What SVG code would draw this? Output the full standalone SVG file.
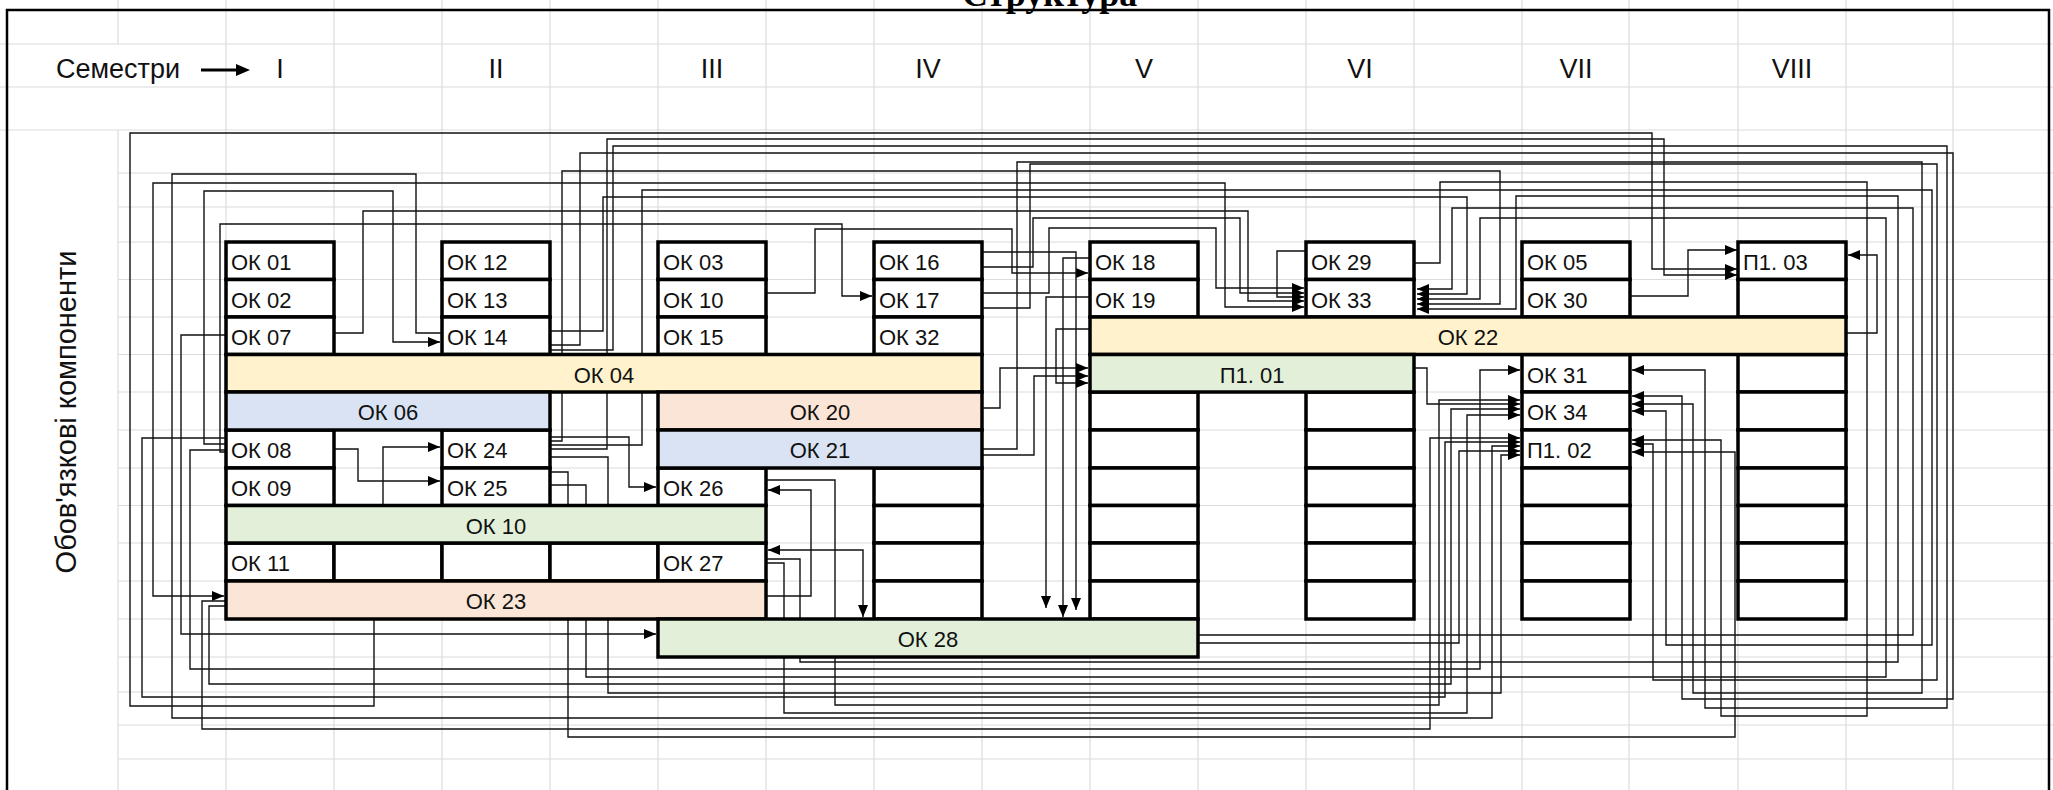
<svg xmlns="http://www.w3.org/2000/svg" width="2053" height="790" viewBox="0 0 2053 790">
<defs>
<marker id="ah" markerWidth="12" markerHeight="10" refX="12" refY="5" orient="auto-start-reverse" markerUnits="userSpaceOnUse"><path d="M0,0 L12,5 L0,10 z" fill="#000"/></marker>
</defs>
<style>
.g{stroke:#dcdcdc;stroke-width:1.2;fill:none}
.c{fill:#fff;stroke:#000;stroke-width:3.5}
.y{fill:#FFF2CC}.b{fill:#DAE3F3}.p{fill:#FBE5D6}.gr{fill:#E2F0D9}
.t{font-family:"Liberation Sans",Arial,sans-serif;font-size:22px;fill:#111}
.tm{text-anchor:middle}
.h{font-family:"Liberation Sans",Arial,sans-serif;font-size:27px;fill:#111}
#connectors path{fill:none;stroke:#111;stroke-width:1.4}
#connectors .a{marker-end:url(#ah)}
#connectors .aa{marker-end:url(#ah);marker-start:url(#ah)}
</style>
<rect width="2053" height="790" fill="#fff"/>
<g id="grid">
<path class="g" d="M226,0V790M334,0V790M442,0V790M550,0V790M658,0V790M766,0V790M874,0V790M982,0V790M1090,0V790M1198,0V790M1306,0V790M1414,0V790M1522,0V790M1629,0V790M1738,0V790M1846,0V790M1953,0V790M118,0V44M118,130V790"/>
<path class="g" d="M0,44H2053M0,87H2053M0,130H2053M118,173H2053M118,207H2053M118,242H2053M118,279.5H2053M118,317H2053M118,354.5H2053M118,392H2053M118,430H2053M118,468H2053M118,505.5H2053M118,543H2053M118,581H2053M118,619H2053M118,657H2053M118,692H2053M118,725H2053M118,759H2053"/>
</g>
<g id="frame">
<path d="M7,790V10H2049V790" fill="none" stroke="#000" stroke-width="2.5"/>
<text x="962" y="6" style="font-family:'Liberation Serif','Times New Roman',serif;font-size:36px;font-weight:bold;fill:#000">Структура</text>
</g>
<g id="header">
<text class="h" x="56" y="78">Семестри</text>
<path d="M201,70H238" stroke="#000" stroke-width="3"/>
<path d="M236,64L250,70L236,76z" fill="#000"/>
<text class="h tm" x="280" y="78">I</text>
<text class="h tm" x="496" y="78">II</text>
<text class="h tm" x="712" y="78">III</text>
<text class="h tm" x="928" y="78">IV</text>
<text class="h tm" x="1144" y="78">V</text>
<text class="h tm" x="1360" y="78">VI</text>
<text class="h tm" x="1576" y="78">VII</text>
<text class="h tm" x="1792" y="78">VIII</text>
<text class="h tm" style="font-size:29px" transform="translate(76,412) rotate(-90)">Обов'язкові компоненти</text>
</g>
<g id="connectors">
<path class="a" d="M374,619V706H130V133H1652V269H1737"/>
<path class="a" d="M550,449H607V139H1664V275H1737"/>
<path class="a" d="M1630,296H1688V250H1737"/>
<path class="a" d="M1846,333H1877V255H1848"/>
<path class="a" d="M1414,263H1440V182H1867V716H1721V440H1632"/>
<path class="a" d="M1306,251H1277V297H1304"/>
<path class="a" d="M226,444H204V191H393V342H440"/>
<path class="a" d="M442,333H416V174H172V718H1492V446H1520"/>
<path class="aa" d="M224,596H153V183H1225V307H1304"/>
<path class="a" d="M334,333H363V211H1248V301H1304"/>
<path class="a" d="M226,452H220V224H842V296H872"/>
<path class="a" d="M766,293H815V229H1012V273H1088"/>
<path class="a" d="M550,331H603V197H1467V294H1417"/>
<path class="a" d="M550,345H580V153H1953V699H1682V396H1632"/>
<path class="a" d="M550,350H613V146H1947V708H1705V370H1632"/>
<path class="a" d="M550,441H562V171H1500V304H1417"/>
<path class="a" d="M550,445H642V190H1932V645H1666V411H1632"/>
<path class="a" d="M550,437H629V487H656"/>
<path class="a" d="M550,457H608V693H1501V455H1520"/>
<path class="a" d="M550,472H568V737H1735V452H1632"/>
<path class="a" d="M550,485H586V677H1886V218H1480V299H1417"/>
<path class="a" d="M982,252H1076V610"/>
<path class="a" d="M1090,258H1063V617"/>
<path class="a" d="M1090,297H1046V608"/>
<path class="a" d="M1090,329H1056V383H1088"/>
<path class="a" d="M982,408H1000V368H1088"/>
<path class="a" d="M982,455H1034V376H1088"/>
<path class="a" d="M982,267H1033V218H1240V293H1304"/>
<path class="a" d="M982,293H1049V228H1216V288H1304"/>
<path class="a" d="M982,308H1030V164H1937V680H1653V444H1632"/>
<path class="a" d="M982,449H1017V162H1922V693H1693V404H1632"/>
<path class="a" d="M1414,368H1427V404H1520"/>
<path class="a" d="M226,601H202V729H1430V438H1520"/>
<path class="a" d="M766,480H835V705H1439V400H1520"/>
<path class="a" d="M226,606H209V684H1451V409H1520"/>
<path class="a" d="M1198,643H1459V451H1520"/>
<path class="a" d="M766,563H784V713H1467V415H1520"/>
<path class="a" d="M226,450H190V669H1480V370H1520"/>
<path class="a" d="M226,438H142V697H1445V442H1520"/>
<path class="a" d="M766,559H800V662H1898V196H1516V309H1417"/>
<path class="a" d="M1198,635H1913V208H1452V289H1417"/>
<path class="a" d="M226,335H181V634H656"/>
<path class="a" d="M383,581V447H440"/>
<path class="a" d="M334,449H358V481H440"/>
<path class="a" d="M766,596H811V490H768"/>
<path class="aa" d="M768,550H863V617"/>
</g>
<g id="nodes">
<g id="ok01"><rect class="c" x="226" y="242" width="108" height="37.5"/><text class="t" x="231" y="270">ОК 01</text></g>
<g id="ok02"><rect class="c" x="226" y="279.5" width="108" height="37.5"/><text class="t" x="231" y="307.5">ОК 02</text></g>
<g id="ok07"><rect class="c" x="226" y="317" width="108" height="37.5"/><text class="t" x="231" y="345">ОК 07</text></g>
<g id="ok08"><rect class="c" x="226" y="430" width="108" height="38"/><text class="t" x="231" y="458">ОК 08</text></g>
<g id="ok09"><rect class="c" x="226" y="468" width="108" height="37.5"/><text class="t" x="231" y="496">ОК 09</text></g>
<g id="ok11"><rect class="c" x="226" y="543" width="108" height="38"/><text class="t" x="231" y="571">ОК 11</text></g>
<g id="e1"><rect class="c" x="334" y="543" width="108" height="38"/></g>
<g id="ok12"><rect class="c" x="442" y="242" width="108" height="37.5"/><text class="t" x="447" y="270">ОК 12</text></g>
<g id="ok13"><rect class="c" x="442" y="279.5" width="108" height="37.5"/><text class="t" x="447" y="307.5">ОК 13</text></g>
<g id="ok14"><rect class="c" x="442" y="317" width="108" height="37.5"/><text class="t" x="447" y="345">ОК 14</text></g>
<g id="ok24"><rect class="c" x="442" y="430" width="108" height="38"/><text class="t" x="447" y="458">ОК 24</text></g>
<g id="ok25"><rect class="c" x="442" y="468" width="108" height="37.5"/><text class="t" x="447" y="496">ОК 25</text></g>
<g id="e2"><rect class="c" x="442" y="543" width="108" height="38"/></g>
<g id="e3"><rect class="c" x="550" y="543" width="108" height="38"/></g>
<g id="ok03"><rect class="c" x="658" y="242" width="108" height="37.5"/><text class="t" x="663" y="270">ОК 03</text></g>
<g id="ok10a"><rect class="c" x="658" y="279.5" width="108" height="37.5"/><text class="t" x="663" y="307.5">ОК 10</text></g>
<g id="ok15"><rect class="c" x="658" y="317" width="108" height="37.5"/><text class="t" x="663" y="345">ОК 15</text></g>
<g id="ok26"><rect class="c" x="658" y="468" width="108" height="37.5"/><text class="t" x="663" y="496">ОК 26</text></g>
<g id="ok27"><rect class="c" x="658" y="543" width="108" height="38"/><text class="t" x="663" y="571">ОК 27</text></g>
<g id="ok16"><rect class="c" x="874" y="242" width="108" height="37.5"/><text class="t" x="879" y="270">ОК 16</text></g>
<g id="ok17"><rect class="c" x="874" y="279.5" width="108" height="37.5"/><text class="t" x="879" y="307.5">ОК 17</text></g>
<g id="ok32"><rect class="c" x="874" y="317" width="108" height="37.5"/><text class="t" x="879" y="345">ОК 32</text></g>
<g id="iv-empty"><rect class="c" x="874" y="468" width="108" height="37.5"/><rect class="c" x="874" y="505.5" width="108" height="37.5"/><rect class="c" x="874" y="543" width="108" height="38"/><rect class="c" x="874" y="581" width="108" height="38"/></g>
<g id="ok18"><rect class="c" x="1090" y="242" width="108" height="37.5"/><text class="t" x="1095" y="270">ОК 18</text></g>
<g id="ok19"><rect class="c" x="1090" y="279.5" width="108" height="37.5"/><text class="t" x="1095" y="307.5">ОК 19</text></g>
<g id="v-empty"><rect class="c" x="1090" y="392" width="108" height="38"/><rect class="c" x="1090" y="430" width="108" height="38"/><rect class="c" x="1090" y="468" width="108" height="37.5"/><rect class="c" x="1090" y="505.5" width="108" height="37.5"/><rect class="c" x="1090" y="543" width="108" height="38"/><rect class="c" x="1090" y="581" width="108" height="38"/></g>
<g id="ok29"><rect class="c" x="1306" y="242" width="108" height="37.5"/><text class="t" x="1311" y="270">ОК 29</text></g>
<g id="ok33"><rect class="c" x="1306" y="279.5" width="108" height="37.5"/><text class="t" x="1311" y="307.5">ОК 33</text></g>
<g id="vi-empty"><rect class="c" x="1306" y="392" width="108" height="38"/><rect class="c" x="1306" y="430" width="108" height="38"/><rect class="c" x="1306" y="468" width="108" height="37.5"/><rect class="c" x="1306" y="505.5" width="108" height="37.5"/><rect class="c" x="1306" y="543" width="108" height="38"/><rect class="c" x="1306" y="581" width="108" height="38"/></g>
<g id="ok05"><rect class="c" x="1522" y="242" width="108" height="37.5"/><text class="t" x="1527" y="270">ОК 05</text></g>
<g id="ok30"><rect class="c" x="1522" y="279.5" width="108" height="37.5"/><text class="t" x="1527" y="307.5">ОК 30</text></g>
<g id="ok31"><rect class="c" x="1522" y="354.5" width="108" height="37.5"/><text class="t" x="1527" y="382.5">ОК 31</text></g>
<g id="ok34"><rect class="c" x="1522" y="392" width="108" height="38"/><text class="t" x="1527" y="420">ОК 34</text></g>
<g id="p102"><rect class="c" x="1522" y="430" width="108" height="38"/><text class="t" x="1527" y="458">П1. 02</text></g>
<g id="vii-empty"><rect class="c" x="1522" y="468" width="108" height="37.5"/><rect class="c" x="1522" y="505.5" width="108" height="37.5"/><rect class="c" x="1522" y="543" width="108" height="38"/><rect class="c" x="1522" y="581" width="108" height="38"/></g>
<g id="p103"><rect class="c" x="1738" y="242" width="108" height="37.5"/><text class="t" x="1743" y="270">П1. 03</text></g>
<g id="viii-empty"><rect class="c" x="1738" y="279.5" width="108" height="37.5"/><rect class="c" x="1738" y="354.5" width="108" height="37.5"/><rect class="c" x="1738" y="392" width="108" height="38"/><rect class="c" x="1738" y="430" width="108" height="38"/><rect class="c" x="1738" y="468" width="108" height="37.5"/><rect class="c" x="1738" y="505.5" width="108" height="37.5"/><rect class="c" x="1738" y="543" width="108" height="38"/><rect class="c" x="1738" y="581" width="108" height="38"/></g>
<g id="ok04"><rect class="c y" x="226" y="354.5" width="756" height="37.5"/><text class="t tm" x="604" y="382.5">ОК 04</text></g>
<g id="ok06"><rect class="c b" x="226" y="392" width="324" height="38"/><text class="t tm" x="388" y="420">ОК 06</text></g>
<g id="ok20"><rect class="c p" x="658" y="392" width="324" height="38"/><text class="t tm" x="820" y="420">ОК 20</text></g>
<g id="ok21"><rect class="c b" x="658" y="430" width="324" height="38"/><text class="t tm" x="820" y="458">ОК 21</text></g>
<g id="ok10"><rect class="c gr" x="226" y="505.5" width="540" height="37.5"/><text class="t tm" x="496" y="533.5">ОК 10</text></g>
<g id="ok23"><rect class="c p" x="226" y="581" width="540" height="38"/><text class="t tm" x="496" y="609">ОК 23</text></g>
<g id="ok28"><rect class="c gr" x="658" y="619" width="540" height="38"/><text class="t tm" x="928" y="647">ОК 28</text></g>
<g id="ok22"><rect class="c y" x="1090" y="317" width="756" height="37.5"/><text class="t tm" x="1468" y="345">ОК 22</text></g>
<g id="p101"><rect class="c gr" x="1090" y="354.5" width="324" height="37.5"/><text class="t tm" x="1252" y="382.5">П1. 01</text></g>
</g>
</svg>
